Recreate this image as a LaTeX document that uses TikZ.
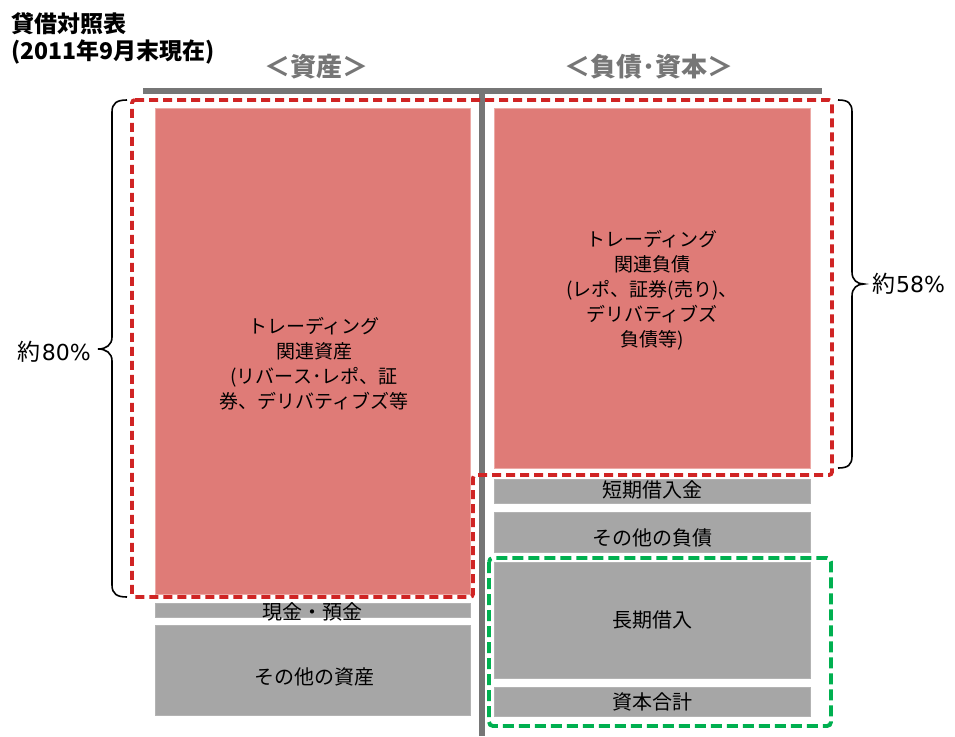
\documentclass[tikz,border=0pt]{standalone}
\usepackage{fontspec}
\setmainfont{Noto Sans CJK JP}
\newfontfamily\digitfont{DejaVu Sans}
\definecolor{pinkc}{RGB}{223,123,119}
\definecolor{pinkedge}{RGB}{236,170,166}
\definecolor{grayc}{RGB}{166,166,166}
\definecolor{barc}{RGB}{118,118,118}
\definecolor{redd}{RGB}{208,36,36}
\definecolor{greend}{RGB}{0,176,80}
\begin{document}
\begin{tikzpicture}[x=1pt,y=-1pt,
  pinkbox/.style={rectangle, fill=pinkc, draw=pinkedge, line width=0.8pt, inner sep=0pt},
  graybox/.style={rectangle, fill=grayc, draw=grayc!85!white, line width=0.8pt, inner sep=0pt},
  lbl/.style={font=\fontsize{20}{24}\selectfont, text=black, inner sep=0pt},
  pinktxt/.style={font=\fontsize{19}{25}\selectfont, align=center, text=black, inner sep=0pt},
  hdr/.style={font=\fontsize{23}{27}\selectfont\bfseries, anchor=west, inner sep=0pt},
  side/.style={font=\fontsize{26}{30}\selectfont\bfseries, text=barc, inner sep=0pt},
  pct/.style={font=\fontsize{23}{27}\selectfont, inner sep=0pt},
  bar/.style={draw=barc, line width=6pt},
  reddash/.style={draw=redd, line width=3.8pt, dash pattern=on 9pt off 5pt, rounded corners=3pt},
  greendash/.style={draw=greend, line width=3.9pt, dash pattern=on 11pt off 5pt, rounded corners=4pt},
  bracec/.style={draw=black, line width=1.6pt}]
\useasboundingbox (0,0) rectangle (955,736);

% header
\node[hdr] (t1) at (11,24) {貸借対照表};
\node[hdr] (t2) at (11,52) {(2011年9月末現在)};
\node[side] (sa) at (316,67) {＜資産＞};
\node[side] (sl) at (649,67) {＜負債･資本＞};

% bars
\coordinate (hbL) at (143,91);
\coordinate (hbR) at (822,91);
\coordinate (vbT) at (482,88);
\coordinate (vbB) at (482,736);
\draw[bar] (hbL) -- (hbR);
\draw[bar] (vbT) -- (vbB);

% left column
\node[pinkbox, minimum width=315pt, minimum height=486pt] (ta) at (312.5,351) {};
\node[graybox, minimum width=315pt, minimum height=14pt] (cash) at (312.5,610) {};
\node[graybox, minimum width=315pt, minimum height=90pt] (oa) at (312.5,670) {};

% right column
\node[pinkbox, minimum width=316pt, minimum height=360pt] (tl) at (652,288) {};
\node[graybox, minimum width=316pt, minimum height=24pt] (sb) at (652,491) {};
\node[graybox, minimum width=316pt, minimum height=40pt] (ol) at (652,532) {};
\node[graybox, minimum width=316pt, minimum height=116pt] (lb) at (652,620) {};
\node[graybox, minimum width=316pt, minimum height=29pt] (cap) at (652,701.5) {};

% labels
\node[pinktxt] (tat) at (314,364) {トレーディング\\関連資産\\(リバース･レポ、証\\券、デリバティブズ等};
\node[pinktxt] (tlt) at (652,290) {トレーディング\\関連負債\\(レポ、証券(売り)、\\デリバティブズ\\負債等)};
\node[lbl] (cashT) at (312.5,612) {現金・預金};
\node[lbl] (oaT) at (314,677) {その他の資産};
\node[lbl] (sbT) at (652,490) {短期借入金};
\node[lbl] (olT) at (652,538) {その他の負債};
\node[lbl] (lbT) at (652,620) {長期借入};
\node[lbl] (capT) at (652,702) {資本合計};

% dashed outlines
\coordinate (r1) at (132,100);
\coordinate (r2) at (832,100);
\coordinate (r3) at (832,475);
\coordinate (r4) at (473,475);
\coordinate (r5) at (473,597);
\coordinate (r6) at (132,597);
\draw[reddash] (r1) -- (r2) -- (r3) -- (r4) -- (r5) -- (r6) -- cycle;
\coordinate (g1) at (489,558);
\coordinate (g2) at (831,726);
\draw[greendash] (g1) rectangle (g2);

% braces
\coordinate (lbTop) at (127,100);
\coordinate (lbTip) at (98,349);
\coordinate (lbBot) at (127,597);
\draw[bracec] (lbTop) .. controls (117,100) and (112,103) .. (112,112) -- (112,337)
  .. controls (112,345) and (106,349) .. (lbTip)
  .. controls (106,349) and (112,353) .. (112,361) -- (112,585)
  .. controls (112,594) and (117,597) .. (lbBot);
\coordinate (rbTop) at (838,100);
\coordinate (rbTip) at (864,284);
\coordinate (rbBot) at (838,468);
\draw[bracec] (rbTop) .. controls (848,100) and (852,103) .. (852,112) -- (852,272)
  .. controls (852,280) and (857,284) .. (rbTip)
  .. controls (857,284) and (852,288) .. (852,296) -- (852,456)
  .. controls (852,465) and (848,468) .. (rbBot);
\node[pct, anchor=east] (p80) at (91,352) {約\kern1pt{\digitfont\fontsize{22}{26}\selectfont 80\%}};
\node[pct, anchor=west] (p58) at (872,284) {約\kern1pt{\digitfont\fontsize{22}{26}\selectfont 58\%}};
\end{tikzpicture}
\end{document}
